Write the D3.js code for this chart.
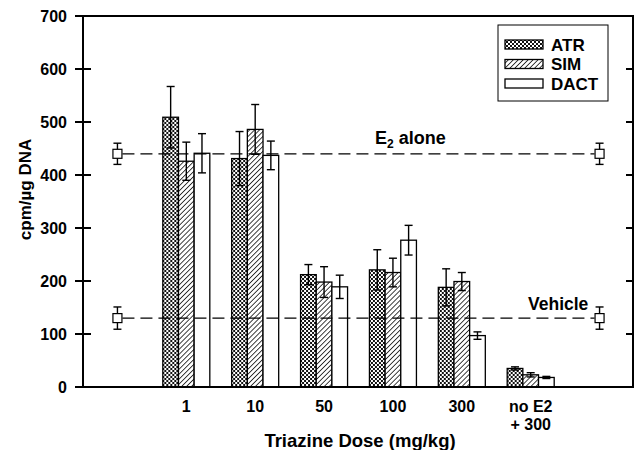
<!DOCTYPE html>
<html lang="en">
<head>
    <meta charset="UTF-8">
    <title>Triazine Dose</title>
    <script src="https://d3js.org/d3.v7.min.js"></script>
    <style>
        body { margin: 0; background: #fff; }
        text {
            font-family: "Liberation Sans", Arial, sans-serif;
            font-weight: bold;
            fill: #000;
        }
        .bar { stroke: #000; stroke-width: 1.3px; }
        .err { stroke: #000; stroke-width: 1.4px; fill: none; }
        .frame { stroke: #000; stroke-width: 2px; fill: none; }
        .ref { stroke: #000; stroke-width: 1.3px; stroke-dasharray: 12 6; }
    </style>
</head>
<body>
<svg width="634" height="450"></svg>
<script>
    // doses (index 0 and 7 hold the reference markers only)
    const doses = ["1", "10", "50", "100", "300", "no E2|+ 300"];
    const series = ["ATR", "SIM", "DACT"];
    const atrMean = [509, 431, 212, 221, 188, 35];
    const atrErr  = [58, 51, 19, 38, 35, 3];
    const simMean = [426, 486, 198, 216, 199, 23];
    const simErr  = [36, 47, 29, 27, 17, 4];
    const dactMean = [441, 437, 189, 277, 97, 18];
    const dactErr  = [37, 27, 22, 28, 7, 2];
    const refNames = ["E2 alone", "Vehicle"];
    const refMean = [440, 130];
    const refErr = [20, 21];
    const yTicks = [0, 100, 200, 300, 400, 500, 600, 700];

    const mLeft = 83, mRight = 634, mTop = 16, mBottom = 387;

    const svg = d3.select("svg");
    const defs = svg.append("defs");

    // checker pattern for ATR
    const chk = defs.append("pattern").attr("id", "chk")
        .attr("patternUnits", "userSpaceOnUse").attr("width", 4).attr("height", 4);
    chk.append("rect").attr("width", 4).attr("height", 4).attr("fill", "#fff");
    chk.append("rect").attr("width", 2).attr("height", 2).attr("fill", "#111");
    chk.append("rect").attr("x", 2).attr("y", 2).attr("width", 2).attr("height", 2).attr("fill", "#111");

    // diagonal hatch for SIM
    const hatch = defs.append("pattern").attr("id", "hatch")
        .attr("patternUnits", "userSpaceOnUse").attr("width", 3.5).attr("height", 3.5)
        .attr("patternTransform", "rotate(45)");
    hatch.append("rect").attr("width", 3.5).attr("height", 3.5).attr("fill", "#fff");
    hatch.append("line").attr("x1", 0).attr("y1", 0).attr("x2", 0).attr("y2", 3.5)
        .attr("stroke", "#111").attr("stroke-width", 1.6);

    const fills = { ATR: "url(#chk)", SIM: "url(#hatch)", DACT: "#fff" };

    const x = d3.scaleBand().domain(d3.range(8)).range([mLeft, mRight]);
    const xs = d3.scaleBand().domain(series).range([-23.5, 23.5]);
    const y = d3.scaleLinear().domain([0, 700]).range([mBottom, mTop]);

    const rows = doses.map((d, i) => ({
        dose: d,
        pos: i + 1,
        vals: [
            { s: "ATR", m: atrMean[i], e: atrErr[i] },
            { s: "SIM", m: simMean[i], e: simErr[i] },
            { s: "DACT", m: dactMean[i], e: dactErr[i] }
        ]
    }));

    // bars
    const grp = svg.append("g").selectAll("g").data(rows).enter().append("g")
        .attr("transform", d => "translate(" + (x(d.pos) + x.bandwidth() / 2) + ",0)");

    grp.selectAll("rect").data(d => d.vals).enter().append("rect")
        .attr("class", "bar")
        .attr("x", d => xs(d.s))
        .attr("width", xs.bandwidth())
        .attr("y", d => y(d.m))
        .attr("height", d => y(0) - y(d.m))
        .attr("fill", d => fills[d.s]);

    const eb = grp.selectAll("g.eb").data(d => d.vals).enter().append("g")
        .attr("class", "eb")
        .attr("transform", d => "translate(" + (xs(d.s) + xs.bandwidth() / 2) + ",0)");
    eb.append("line").attr("class", "err")
        .attr("y1", d => y(d.m + d.e)).attr("y2", d => y(d.m - d.e));
    eb.append("line").attr("class", "err").attr("x1", -4).attr("x2", 4)
        .attr("y1", d => y(d.m + d.e)).attr("y2", d => y(d.m + d.e));
    eb.append("line").attr("class", "err").attr("x1", -4).attr("x2", 4)
        .attr("y1", d => y(d.m - d.e)).attr("y2", d => y(d.m - d.e));

    // reference lines
    const xa = x(0) + x.bandwidth() / 2, xb = x(7) + x.bandwidth() / 2;
    refMean.forEach((m, i) => {
        svg.append("line").attr("class", "ref")
            .attr("x1", xa + 5).attr("x2", xb - 5)
            .attr("y1", y(m)).attr("y2", y(m));
        [xa, xb].forEach(cx => {
            svg.append("line").attr("class", "err").attr("x1", cx).attr("x2", cx)
                .attr("y1", y(m + refErr[i])).attr("y2", y(m - refErr[i]));
            [m + refErr[i], m - refErr[i]].forEach(v => {
                svg.append("line").attr("class", "err")
                    .attr("x1", cx - 4).attr("x2", cx + 4).attr("y1", y(v)).attr("y2", y(v));
            });
            svg.append("rect").attr("x", cx - 4.5).attr("y", y(m) - 4.5)
                .attr("width", 9).attr("height", 9)
                .attr("fill", "#fff").attr("stroke", "#000").attr("stroke-width", 1.2);
        });
    });

    const e2 = svg.append("text").attr("x", 375).attr("y", y(refMean[0]) - 10)
        .style("font-size", "18px");
    e2.append("tspan").text("E");
    e2.append("tspan").attr("dy", 4).style("font-size", "12px").text("2");
    e2.append("tspan").attr("dy", -4).text(" alone");

    svg.append("text").attr("x", 528).attr("y", y(refMean[1]) - 8)
        .style("font-size", "17.5px").text(refNames[1]);

    // frame and axes
    svg.append("line").attr("class", "frame").attr("x1", mLeft).attr("x2", mLeft).attr("y1", mTop).attr("y2", mBottom);
    svg.append("line").attr("class", "frame").attr("x1", mRight - 1).attr("x2", mRight - 1).attr("y1", mTop).attr("y2", mBottom);
    svg.append("line").attr("class", "frame").attr("x1", mLeft - 8).attr("x2", mRight).attr("y1", mTop).attr("y2", mTop);
    svg.append("line").attr("class", "frame").attr("x1", mLeft - 8).attr("x2", mRight).attr("y1", mBottom).attr("y2", mBottom);

    yTicks.forEach(t => {
        svg.append("line").attr("class", "frame").attr("x1", mLeft - 8).attr("x2", mLeft + 8)
            .attr("y1", y(t)).attr("y2", y(t));
        svg.append("line").attr("class", "frame").attr("x1", mRight - 8).attr("x2", mRight)
            .attr("y1", y(t)).attr("y2", y(t));
        svg.append("text").attr("x", 67).attr("y", y(t) + 5.5)
            .attr("text-anchor", "end").style("font-size", "16px").text(t);
    });

    rows.forEach(r => {
        const lines = r.dose.split("|");
        lines.forEach((ln, j) => {
            svg.append("text").attr("x", x(r.pos) + x.bandwidth() / 2)
                .attr("y", 412 + j * 18)
                .attr("text-anchor", "middle").style("font-size", "16px").text(ln);
        });
    });

    svg.append("text").attr("x", 360).attr("y", 447).attr("text-anchor", "middle")
        .style("font-size", "18.5px").text("Triazine Dose (mg/kg)");

    svg.append("text").attr("transform", "translate(31," + ((mTop + mBottom) / 2 - 12) + ") rotate(-90)")
        .attr("text-anchor", "middle").style("font-size", "17px").text("cpm/\u00b5g DNA");

    // legend
    const lg = svg.append("g").attr("transform", "translate(498,25)");
    lg.append("rect").attr("width", 110).attr("height", 76)
        .attr("fill", "#fff").attr("stroke", "#000").attr("stroke-width", 1);
    series.forEach((s, i) => {
        lg.append("rect").attr("class", "bar").attr("x", 7).attr("y", 15 + i * 19.5)
            .attr("width", 38).attr("height", 9).attr("fill", fills[s]);
        lg.append("text").attr("x", 53).attr("y", 25.5 + i * 19.5)
            .style("font-size", "17px").text(s);
    });
</script>
</body>
</html>
